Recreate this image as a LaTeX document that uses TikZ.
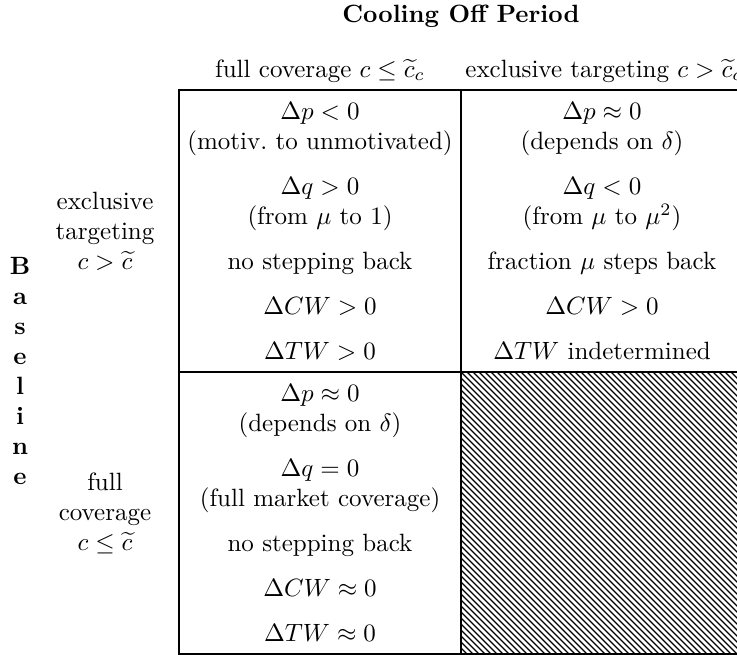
\documentclass[tikz,border=0pt]{standalone}
\begin{document}
\begin{tikzpicture}[x=0.4pt,y=-0.4pt,
  tableline/.style={line width=0.9pt},
  hatchline/.style={line width=0.45pt},
  cellbox/.style={align=center,inner sep=0pt},
  headtext/.style={anchor=base,inner sep=0pt},
  rowlabel/.style={align=center,inner sep=0pt},
  vlabel/.style={align=center,inner sep=0pt,font=\bfseries}]
\useasboundingbox (0,0) rectangle (737,654);

% corners of the 2x2 grid
\coordinate (tl) at (179,90);
\coordinate (br) at (743,654);
\coordinate (mtop) at (461,90);
\coordinate (mbot) at (461,654);
\coordinate (lmid) at (179,372);
\coordinate (rmid) at (743,372);
\coordinate (c) at (461,372);

% hatched (empty) cell
\begin{scope}
  \clip (c) rectangle (br);
  \foreach \k in {0,...,96}
    \draw[hatchline] (173+6*\k,372) -- ++(290,290);
\end{scope}

% grid lines
\draw[tableline] (tl) rectangle (br);
\draw[tableline] (mtop) -- (mbot);
\draw[tableline] (lmid) -- (rmid);

% headings
\node[headtext] (title) at (461,22) {\bfseries Cooling Off Period};
\node[headtext] (colA) at (320,77) {full coverage $c\leq\widetilde{c}_c$};
\node[headtext] (colB) at (604,77) {exclusive targeting $c>\widetilde{c}_c$};

\node[vlabel] (base) at (20,371) {B\\a\\s\\e\\l\\i\\n\\e};
\node[rowlabel] (rowA) at (105,231) {exclusive\\targeting\\$c>\widetilde{c}$};
\node[rowlabel] (rowB) at (105,513) {full\\coverage\\$c\leq\widetilde{c}$};

% cell contents
\node[cellbox] (cellAA) at (320,231) {$\Delta p<0$\\(motiv.\ to unmotivated)\\[6pt]
  $\Delta q>0$\\(from $\mu$ to 1)\\[6pt]
  no stepping back\\[6pt]
  $\Delta CW>0$\\[6pt]
  $\Delta TW>0$};
\node[cellbox] (cellAB) at (602,231) {$\Delta p\approx 0$\\(depends on $\delta$)\\[6pt]
  $\Delta q<0$\\(from $\mu$ to $\mu^2$)\\[6pt]
  fraction $\mu$ steps back\\[6pt]
  $\Delta CW>0$\\[6pt]
  $\Delta TW$ indetermined};
\node[cellbox] (cellBA) at (320,513) {$\Delta p\approx 0$\\(depends on $\delta$)\\[6pt]
  $\Delta q=0$\\(full market coverage)\\[6pt]
  no stepping back\\[6pt]
  $\Delta CW\approx 0$\\[6pt]
  $\Delta TW\approx 0$};
\end{tikzpicture}
\end{document}
